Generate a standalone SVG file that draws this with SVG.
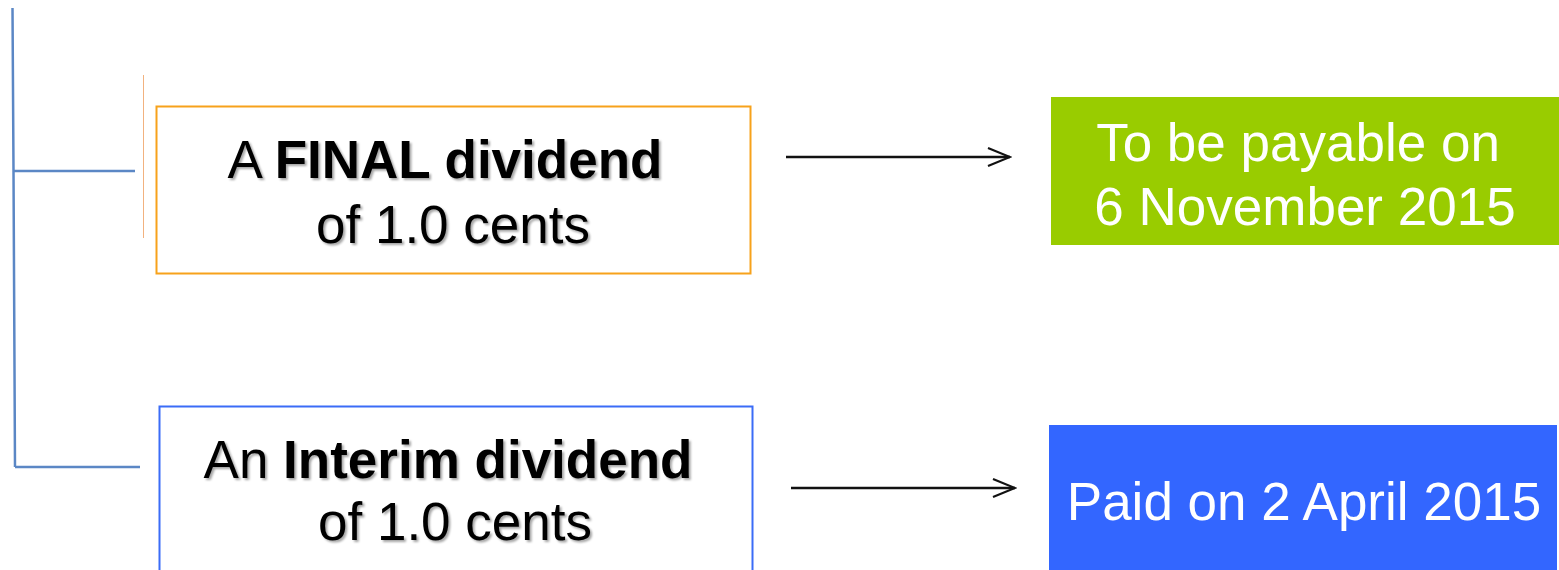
<svg xmlns="http://www.w3.org/2000/svg" width="1559" height="570" viewBox="0 0 1559 570">
<defs>
<style>
.t{font-family:"Liberation Sans",Arial,sans-serif;font-size:53px;text-anchor:middle}
.dk{fill:#000;filter:url(#sh)}
.wt{fill:#fff}
.b{font-weight:bold}
.tree{stroke:#5b87c5;stroke-width:2.5;fill:none}
.arr{stroke:#111;stroke-width:2.5;fill:none;marker-end:url(#ah)}
</style>
<filter id="sh" x="-5%" y="-20%" width="110%" height="140%">
<feDropShadow dx="2" dy="2" stdDeviation="1.2" flood-color="#000" flood-opacity="0.35"/>
</filter>
<marker id="ah" viewBox="0 0 26 22" refX="24" refY="11" markerWidth="26" markerHeight="22" markerUnits="userSpaceOnUse" orient="auto">
<path d="M2,2 L24,11 L2,20" fill="none" stroke="#111" stroke-width="2.2"/>
</marker>
</defs>
<rect width="1559" height="570" fill="#fff"/>
<g id="connectors">
<path class="tree" d="M12.5,8 L13.5,170 L15,467"/>
<line class="tree" x1="13" y1="171" x2="135" y2="171"/>
<line class="tree" x1="15" y1="467" x2="140" y2="467"/>
<line x1="143.5" y1="75" x2="143.5" y2="238" stroke="#f0a060" stroke-width="1" opacity="0.8"/>
<line class="arr" x1="786" y1="157" x2="1010" y2="157"/>
<line class="arr" x1="791" y1="488" x2="1015" y2="488"/>
</g>
<g id="final">
<rect x="156.5" y="106.5" width="594" height="167" fill="#fff" stroke="#f7a21b" stroke-width="2"/>
<text class="t dk" x="445" y="178">A <tspan class="b">FINAL dividend</tspan></text>
<text class="t dk" x="453" y="243">of 1.0 cents</text>
</g>
<g id="interim">
<rect x="159.5" y="406.5" width="593" height="175" fill="#fff" stroke="#3b6cf7" stroke-width="2"/>
<text class="t dk" x="448" y="478">An <tspan class="b">Interim dividend</tspan></text>
<text class="t dk" x="455" y="540">of 1.0 cents</text>
</g>
<g id="payable">
<rect x="1051" y="97" width="508" height="148" fill="#99cc00"/>
<text class="t wt" x="1298" y="161">To be payable on</text>
<text class="t wt" x="1305" y="225">6 November 2015</text>
</g>
<g id="paid">
<rect x="1049" y="425" width="508" height="145" fill="#3366ff"/>
<text class="t wt" x="1304" y="520">Paid on 2 April 2015</text>
</g>
</svg>
